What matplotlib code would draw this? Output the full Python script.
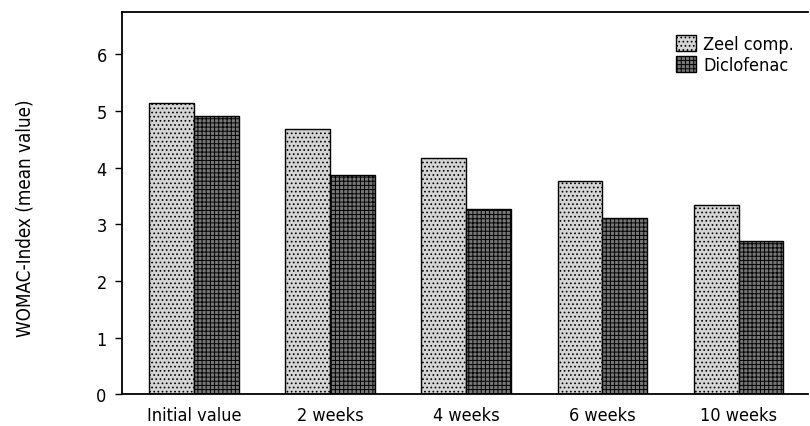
import numpy as np
import matplotlib.pyplot as plt

# WOMAC index over time, Zeel comp. vs Diclofenac
categories = ["Initial value", "2 weeks", "4 weeks", "6 weeks", "10 weeks"]
zeel = [5.15, 4.68, 4.17, 3.77, 3.34]
diclofenac = [4.92, 3.87, 3.28, 3.12, 2.70]
y_ticks = [0, 1, 2, 3, 4, 5, 6]

plt.rcParams["font.family"] = ["DejaVu Sans"]
plt.rcParams["font.stretch"] = "condensed"
plt.rcParams["hatch.linewidth"] = 0.7
plt.rcParams["hatch.color"] = "#333333"

fig = plt.figure(figsize=(8.1, 4.27), dpi=100)
ax = fig.add_axes([0.1506, 0.0738, 0.8469, 0.8946])

x = np.arange(len(categories))
width = 0.33

ax.bar(x - width / 2, zeel, width, color="#d4d4d4", edgecolor="black",
       linewidth=1.0, hatch="....", label="Zeel comp.")
ax.bar(x + width / 2, diclofenac, width, color="#777777", edgecolor="black",
       linewidth=1.0, hatch="++++", label="Diclofenac")

ax.set_xlim(-0.53, 4.51)
ax.set_ylim(0, 6.74)
ax.set_yticks(y_ticks)
ax.set_yticklabels([str(t) for t in y_ticks])
ax.set_xticks(x)
ax.set_xticklabels(categories)

ax.tick_params(axis="x", length=0, pad=8, labelsize=13)
ax.tick_params(axis="y", direction="out", length=5, width=1, pad=6, labelsize=13)

for side in ["left", "top", "bottom"]:
    ax.spines[side].set_linewidth(1.3)
ax.spines["right"].set_visible(False)

fig.text(0.031, 0.49, "WOMAC-Index (mean value)", rotation=90,
         ha="center", va="center", fontsize=13.5)

ax.legend(loc="upper right", bbox_to_anchor=(0.995, 0.97), frameon=False,
          fontsize=13, handlelength=1.1, handleheight=1.0, handletextpad=0.4,
          labelspacing=0.15, borderaxespad=0.2)

plt.savefig("out.png", dpi=100)
